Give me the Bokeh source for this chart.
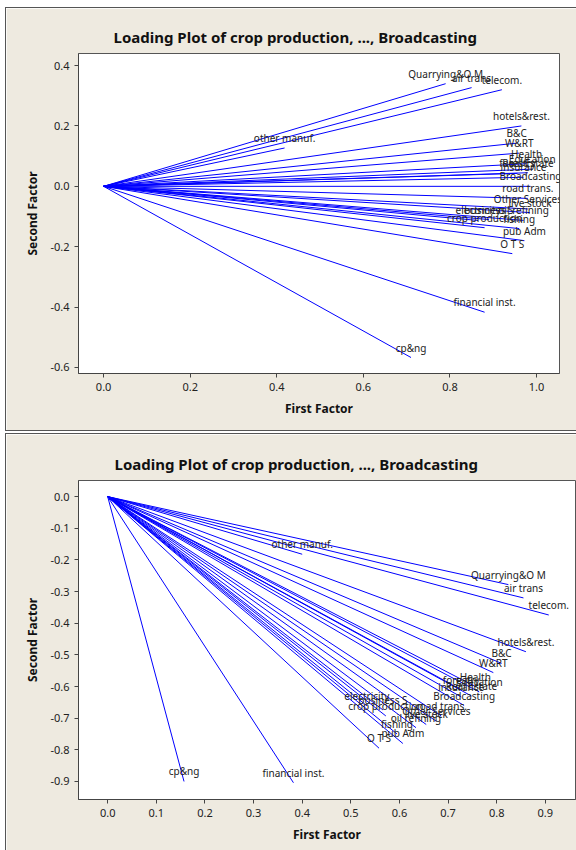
from bokeh.plotting import figure
from bokeh.models import ColumnDataSource, FixedTicker, PrintfTickFormatter, Range1d, Spacer
from bokeh.layouts import column, row
from bokeh.core.properties import value
from bokeh.embed import file_html
from bokeh.resources import INLINE
import numpy as np

names = ["crop production", "live stock", "forestry", "fishing", "cp&ng",
         "Quarrying&O M", "oil refining", "other manuf.", "electricity", "B&C",
         "W&RT", "hotels&rest.", "road trans.", "air trans", "O T S",
         "telecom.", "financial inst.", "insurance", "Real Estate", "pub Adm",
         "Education", "Health", "business S", "Other Services", "Broadcasting"]

# first panel loadings
top_first = [0.88, 0.985, 0.956, 0.96, 0.71,
             0.79, 0.97, 0.418, 0.865, 0.954,
             0.96, 0.965, 0.98, 0.85, 0.944,
             0.92, 0.88, 0.97, 0.98, 0.972,
             0.99, 0.977, 0.89, 0.98, 0.986]
top_second = [-0.137, -0.087, 0.043, -0.14, -0.567,
              0.34, -0.113, 0.127, -0.113, 0.143,
              0.11, 0.20, -0.04, 0.327, -0.223,
              0.32, -0.417, 0.03, 0.045, -0.18,
              0.057, 0.075, -0.11, -0.075, 0.0]

# second panel loadings
bot_first = [0.572, 0.655, 0.727, 0.595, 0.157,
             0.824, 0.634, 0.40, 0.533, 0.81,
             0.793, 0.86, 0.686, 0.855, 0.558,
             0.907, 0.382, 0.727, 0.748, 0.607,
             0.764, 0.756, 0.566, 0.676, 0.733]
bot_second = [-0.693, -0.72, -0.61, -0.75, -0.90,
              -0.278, -0.73, -0.182, -0.661, -0.527,
              -0.556, -0.49, -0.693, -0.32, -0.795,
              -0.374, -0.904, -0.633, -0.63, -0.78,
              -0.617, -0.60, -0.674, -0.71, -0.66]

top_xticks = [0.0, 0.2, 0.4, 0.6, 0.8, 1.0]
top_yticks = [-0.6, -0.4, -0.2, 0.0, 0.2, 0.4]
bot_xticks = [0.0, 0.1, 0.2, 0.3, 0.4, 0.5, 0.6, 0.7, 0.8, 0.9]
bot_yticks = [0.0, -0.1, -0.2, -0.3, -0.4, -0.5, -0.6, -0.7, -0.8, -0.9]

TITLE = "Loading Plot of crop production, ..., Broadcasting"
CREAM = "#EEEAE0"
FONT = "Noto Sans"


def make_panel(xs, ys, xr, yr, xt, yt, fw, fh, borders, title_offset):
    bl, br, bt, bb = borders
    p = figure(frame_width=fw, frame_height=fh, output_backend="svg", toolbar_location=None,
               x_range=Range1d(*xr), y_range=Range1d(*yr),
               min_border_left=bl, min_border_right=br,
               min_border_top=bt, min_border_bottom=bb,
               title=TITLE)
    p.border_fill_color = CREAM
    p.background_fill_color = "white"
    p.outline_line_color = "#555555"
    p.outline_line_width = 1
    p.grid.visible = False
    p.title.align = "left"
    p.title.offset = title_offset
    p.title.text_font = FONT
    p.title.text_font_size = "15px"
    p.title.text_font_style = "bold"
    p.title.text_color = "#111111"
    p.title.standoff = 13
    p.styles = {"border": "1px solid #555555"}

    for ax, ticks, lab in ((p.xaxis[0], xt, "First Factor"), (p.yaxis[0], yt, "Second Factor")):
        ax.ticker = FixedTicker(ticks=ticks)
        ax.formatter = PrintfTickFormatter(format="%.1f")
        ax.minor_tick_line_color = None
        ax.major_tick_in = 0
        ax.major_tick_out = 4
        ax.major_tick_line_color = "#444444"
        ax.axis_line_color = "#444444"
        ax.major_label_text_font = FONT
        ax.major_label_text_font_size = "11px"
        ax.major_label_text_color = "#222222"
        ax.axis_label = lab
        ax.axis_label_text_font = FONT
        ax.axis_label_text_font_size = "12px"
        ax.axis_label_text_font_style = "bold"
        ax.axis_label_text_color = "#111111"
        ax.axis_label_standoff = 6

    src = ColumnDataSource(dict(x0=np.zeros(len(xs)), y0=np.zeros(len(ys)),
                                x1=xs, y1=ys, name=names))
    p.segment(x0="x0", y0="y0", x1="x1", y1="y1", source=src,
              line_color="#0000FF", line_width=1)
    p.text(x="x1", y="y1", text="name", source=src, text_align="center",
           text_baseline="middle", y_offset=-10, text_font=value(FONT),
           text_font_size="10px", text_color="#222222")
    return p


p1 = make_panel(top_first, top_second, (-0.058, 1.053), (-0.62, 0.44),
                top_xticks, top_yticks, 479, 318, (70, 23, 45, 59), 35)
p2 = make_panel(bot_first, bot_second, (-0.06, 0.962), (-0.957, 0.051),
                bot_xticks, bot_yticks, 495, 317, (72, 5, 46, 53), 36)

layout = column(Spacer(height=7),
                row(Spacer(width=5), column(p1, Spacer(height=2), p2, spacing=0), spacing=0),
                spacing=0)

open("out.html", "w").write(file_html(layout, INLINE))
